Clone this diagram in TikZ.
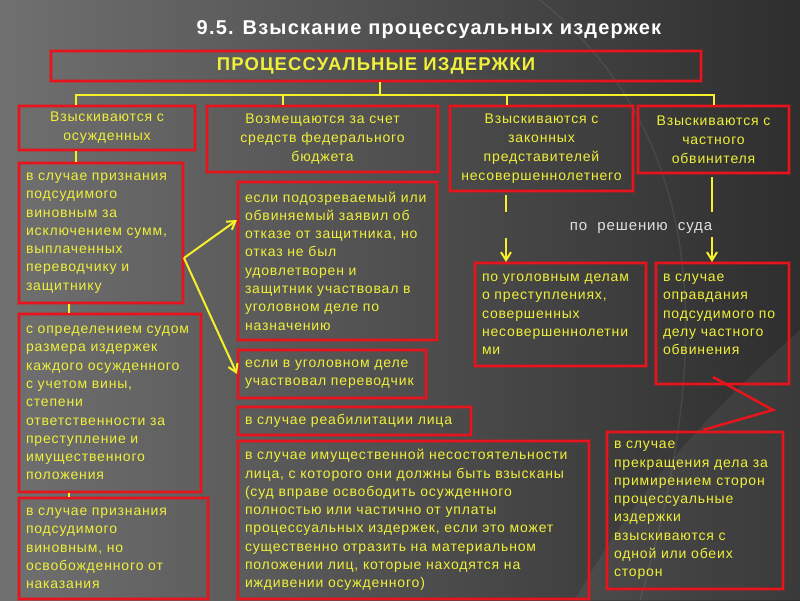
\documentclass[tikz,border=0pt]{standalone}
\usepackage{fontspec}
\setmainfont[LetterSpace=6]{Liberation Sans}
\usetikzlibrary{arrows.meta}
\definecolor{boxred}{HTML}{E8141B}
\definecolor{txtyellow}{HTML}{F0F03A}
\definecolor{linkyellow}{HTML}{F5F02A}
\definecolor{bgl}{HTML}{707070}
\definecolor{bgm}{HTML}{484848}
\definecolor{bgr}{HTML}{2E2E2E}

\begin{document}
\begin{tikzpicture}[x=1pt, y=-1pt,
    redbox/.style={draw=boxred, line width=2pt,
        preaction={draw=boxred, draw opacity=0.35, line width=4.5pt},
        anchor=north west, inner xsep=7pt, inner ysep=4pt, text=txtyellow,
        font=\fontsize{14}{18.3}\selectfont, align=left},
    headbox/.style={redbox, align=center, font=\fontsize{14}{19}\selectfont},
    link/.style={draw=linkyellow, line width=2pt},
    arrow/.style={-{Straight Barb[length=8pt, width=10pt]}},
    zig/.style={draw=boxred, line width=2.5pt}]
    % background
    \useasboundingbox (0,0) rectangle (800,600);
    \shade[left color=bgl, middle color=bgm, right color=bgr] (0,0) rectangle (800,600);
    \fill[white, opacity=0.06] (800,330) .. controls (700,420) and (630,500) .. (575,600) -- (800,600) -- cycle;
    \draw[white, opacity=0.07, line width=1.5pt] (540,0) .. controls (700,130) and (720,330) .. (640,600);

    \node[text=white, font=\bfseries\fontsize{20}{23}\selectfont] (title) at (429,30) {9.5. Взыскание процессуальных издержек};
    \node[headbox, minimum width=650pt, minimum height=30pt, font=\bfseries\fontsize{18.5}{20}\selectfont] (top) at (50,50) {ПРОЦЕССУАЛЬНЫЕ ИЗДЕРЖКИ};

    % four ways
    \node[headbox, minimum width=176pt, minimum height=44pt] (h1) at (18,105) {Взыскиваются с\\осужденных};
    \node[headbox, minimum width=231pt, minimum height=66pt] (h2) at (206,105) {Возмещаются за счет\\средств федерального\\бюджета};
    \node[headbox, minimum width=183pt, minimum height=85pt] (h3) at (449,105) {Взыскиваются с\\законных\\представителей\\несовершеннолетнего};
    \node[headbox, minimum width=151pt, minimum height=67pt] (h4) at (637,105) {Взыскиваются с\\частного\\обвинителя};

    % left column
    \node[redbox, text width=150pt, minimum height=140pt] (l1) at (18,162) {в случае признания\\подсудимого\\виновным за\\исключением сумм,\\выплаченных\\переводчику и\\защитнику};
    \node[redbox, text width=168pt, minimum height=178pt] (l2) at (18,313) {с определением судом\\размера издержек\\каждого осужденного\\с учетом вины,\\степени\\ответственности за\\преступление и\\имущественного\\положения};
    \node[redbox, text width=175pt, minimum height=101pt] (l3) at (18,497) {в случае признания\\подсудимого\\виновным, но\\освобожденного от\\наказания};

    % middle column
    \node[redbox, text width=185pt, minimum height=158pt] (m1) at (237,181) {если подозреваемый или\\обвиняемый заявил об\\отказе от защитника, но\\отказ не был\\удовлетворен и\\защитник участвовал в\\уголовном деле по\\назначению};
    \node[redbox, text width=174pt, minimum height=48pt] (m2) at (237,349) {если в уголовном деле\\участвовал переводчик};
    \node[redbox, text width=219pt, minimum height=28pt] (m3) at (237,406) {в случае реабилитации лица};
    \node[redbox, text width=337pt, minimum height=158pt] (m4) at (237,440) {в случае имущественной несостоятельности\\лица, с которого они должны быть взысканы\\(суд вправе освободить осужденного\\полностью или частично от уплаты\\процессуальных издержек, если это может\\существенно отразить на материальном\\положении лиц, которые находятся на\\иждивении осужденного)};

    % right columns
    \node[redbox, text width=157pt, minimum height=103pt] (r1) at (474,262) {по уголовным делам\\о преступлениях,\\совершенных\\несовершеннолетни\\ми};
    \node[redbox, text width=119pt, minimum height=121pt] (r2) at (655,262) {в случае\\оправдания\\подсудимого по\\делу частного\\обвинения\\~};
    \node[redbox, text width=162pt, minimum height=157pt] (r3) at (606,431) {в случае\\прекращения дела за\\примирением сторон\\процессуальные\\издержки\\взыскиваются с\\одной или обеих\\сторон};
    \node[text=white!88!black, font=\fontsize{15}{18}\selectfont] (court) at (641,228) {по\ \ решению\ \ суда};

    % connectors
    \coordinate (bus) at (380,95);
    \draw[link] (top.south -| bus) -- (bus);
    \draw[link] ([xshift=-31pt]h1.north) |- (bus) -| (h4.north);
    \draw[link] ([xshift=-40pt]h2.north) -- ([xshift=-40pt]h2.north |- bus);
    \draw[link] ([xshift=-34.5pt]h3.north) -- ([xshift=-34.5pt]h3.north |- bus);
    \draw[link] ([xshift=-31pt]h1.south) -- ([xshift=-31pt]h1.south |- l1.north);
    \draw[link] ([xshift=-32pt]l1.south) -- ([xshift=-32pt]l1.south |- l2.north);
    \draw[link] ([xshift=-41pt]l2.south) -- ([xshift=-41pt]l2.south |- l3.north);
    \coordinate (fork) at ([yshift=-25pt]l1.east);
    \draw[link, arrow] (fork) -- ([yshift=41pt]m1.west);
    \draw[link, arrow] (fork) -- (m2.west);
    \coordinate (d3) at (506,212);
    \coordinate (d4) at (712,212);
    \coordinate (a3) at (506,238);
    \coordinate (a4) at (712,237);
    \draw[link, shorten <=3pt] (h3.south -| d3) -- (d3);
    \draw[link, shorten <=3pt] (h4.south -| d4) -- (d4);
    \draw[link, arrow] (a3) -- (a3 |- r1.north);
    \draw[link, arrow] (a4) -- (a4 |- r2.north);
    \coordinate (zz) at (773,410);
    \draw[zig] ([shift={(-9.5pt,8pt)}]r2.south) -- (zz) -- ([shift={(8pt,1pt)}]r3.north);
\end{tikzpicture}
\end{document}
